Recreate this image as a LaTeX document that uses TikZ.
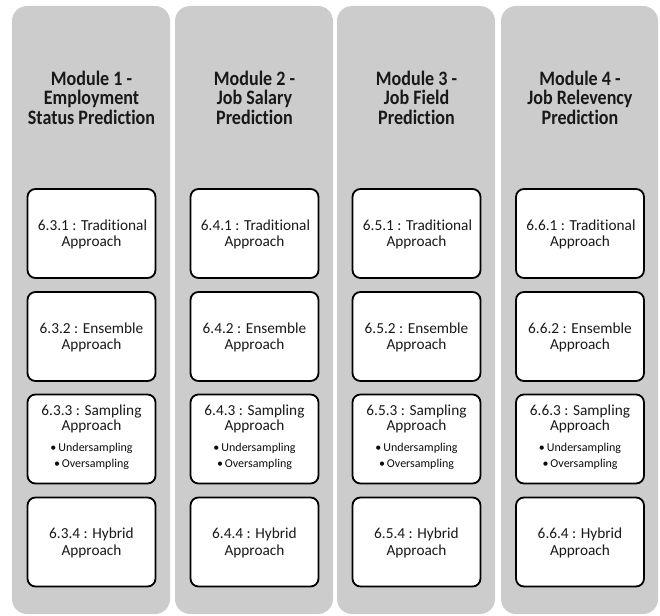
\documentclass[tikz,border=0pt]{standalone}
\usepackage{fontspec}
\setmainfont[RawFeature=-liga]{Carlito}
\newfontfamily\headfont[FakeStretch=0.88,RawFeature=-liga]{Carlito}
\definecolor{colgray}{RGB}{204,204,204}
\tikzset{
  column/.style={fill=colgray, draw=none, rounded corners=15pt},
  title/.style={font=\headfont\fontsize{20.5}{19.5}\selectfont\bfseries, text=black!90, inner sep=0pt, anchor=base},
  stepbox/.style={draw=black, line width=1.8pt, fill=white, rounded corners=8pt,
    minimum width=128pt, minimum height=89pt, inner sep=0pt},
  lbl/.style={font=\fontsize{15.3}{16}\selectfont, text=black!90, inner sep=0pt, anchor=base},
  bul/.style={font=\fontsize{12}{16}\selectfont, text=black!95, inner sep=0pt, anchor=base}
}
\begin{document}
\begin{tikzpicture}[x=1pt,y=-1pt]
\useasboundingbox (0,0) rectangle (660,615);
% module columns: index / left edge / right edge / section number / title lines
\foreach \i/\l/\r/\s/\ta/\tb/\tc in {1/12/170/3/{Module 1 -}/{Employment}/{Status Prediction},
                            2/175/333/4/{Module 2 -}/{Job Salary}/{Prediction},
                            3/337/495/5/{Module 3 -}/{Job Field}/{Prediction},
                            4/501/658/6/{Module 4 -}/{Job Relevency}/{Prediction}} {
  \pgfmathsetmacro{\cx}{(\l+\r)/2}
  \fill[column] (\l,6) rectangle (\r,614);
  % module heading
  \node[title] (h\i a) at (\cx+0.5,85) {\ta};
  \node[title] (h\i b) at (\cx+0.5,104.5) {\tb};
  \node[title] (h\i c) at (\cx+0.5,124) {\tc};
  % traditional
  \node[stepbox] (b\i a) at (\cx+0.5,233.5) {};
  \node[lbl] (t\i a1) at (\cx+1.5,230) {6.\s.1 : Traditional};
  \node[lbl] (t\i a2) at (\cx+0.5,246.5) {Approach};
  % ensemble
  \node[stepbox] (b\i b) at (\cx+0.5,336.5) {};
  \node[lbl] (t\i b1) at (\cx+0.5,333) {6.\s.2 : Ensemble};
  \node[lbl] (t\i b2) at (\cx+0.5,349.5) {Approach};
  % sampling
  \node[stepbox] (b\i c) at (\cx+0.5,439) {};
  \node[lbl] (t\i c1) at (\cx+0.5,415) {6.\s.3 : Sampling};
  \node[lbl] (t\i c2) at (\cx+0.5,430.5) {Approach};
  \node[bul] (u\i c1) at (\cx+0.5,451.5) {•\,Undersampling};
  \node[bul] (u\i c2) at (\cx+0.5,467) {•\,Oversampling};
  % hybrid
  \node[stepbox] (b\i d) at (\cx+0.5,542) {};
  \node[lbl] (t\i d1) at (\cx+0.5,538.5) {6.\s.4 : Hybrid};
  \node[lbl] (t\i d2) at (\cx+0.5,555) {Approach};
}
\end{tikzpicture}
\end{document}
